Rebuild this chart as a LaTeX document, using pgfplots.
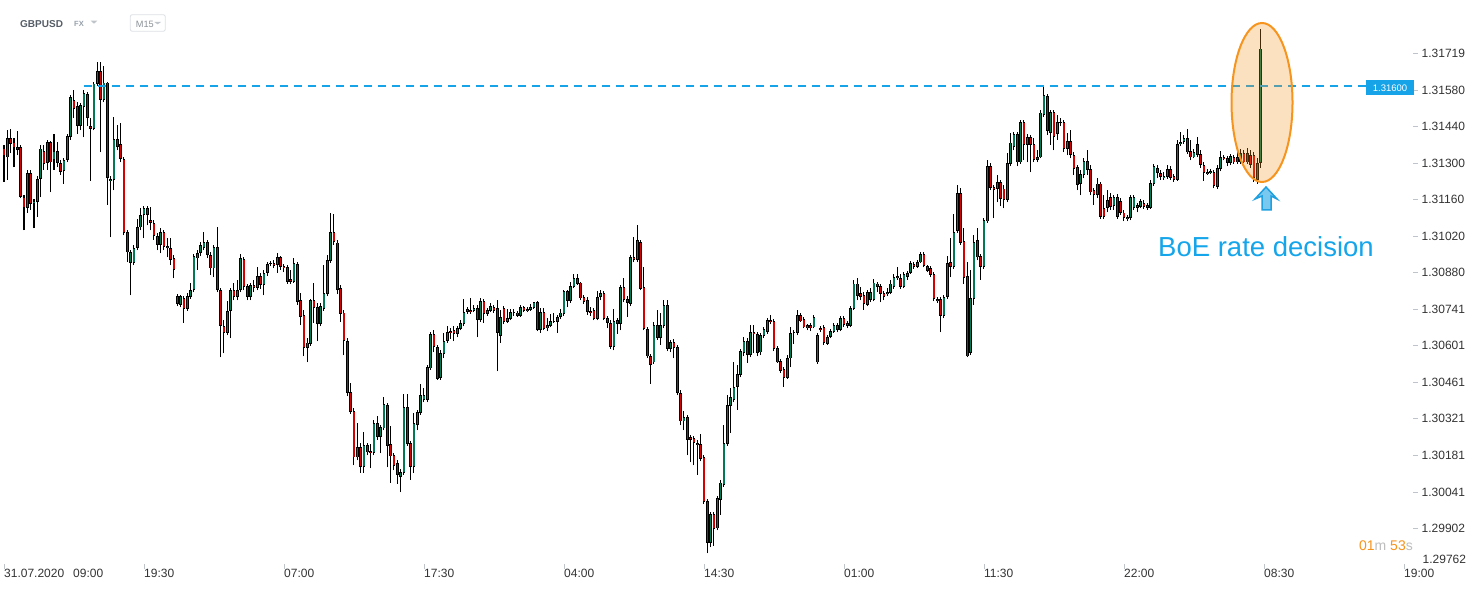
\documentclass[border=0pt]{standalone}
\usepackage{fontspec}
\setmainfont{Liberation Sans}
\usepackage{pgfplots}
\usepackage{pgfplotstable}
\pgfplotsset{compat=1.18}
\definecolor{cgreen}{RGB}{0,122,82}
\definecolor{cred}{RGB}{215,0,0}
\definecolor{lvlblue}{RGB}{22,163,232}
\definecolor{txtblue}{RGB}{20,165,235}
\definecolor{orng}{RGB}{247,148,29}
\definecolor{tickgray}{RGB}{190,196,202}
\definecolor{labgray}{RGB}{51,51,51}
\definecolor{lgray}{RGB}{190,190,190}
\definecolor{hdrgray}{RGB}{85,93,102}
\definecolor{fxgray}{RGB}{150,160,170}
\definecolor{trigray}{RGB}{190,196,202}
\definecolor{boxgray}{RGB}{220,224,228}
\definecolor{m15gray}{RGB}{140,146,152}
\definecolor{arrowblue}{RGB}{30,160,225}
\definecolor{arrowlight}{RGB}{120,200,240}

\pgfplotstableread{
i o h l c
0 1.31358 1.31370 1.31228 1.31327
1 1.31323 1.31427 1.31236 1.31396
2 1.31396 1.31431 1.31339 1.31374
3 1.31378 1.31396 1.31285 1.31358
4 1.31362 1.31423 1.31331 1.31350
5 1.31362 1.31370 1.31166 1.31170
6 1.31170 1.31178 1.31044 1.31128
7 1.31128 1.31274 1.31110 1.31263
8 1.31263 1.31274 1.31121 1.31144
9 1.31144 1.31163 1.31051 1.31155
10 1.31151 1.31251 1.31094 1.31240
11 1.31240 1.31370 1.31170 1.31355
12 1.31346 1.31370 1.31274 1.31297
13 1.31301 1.31389 1.31274 1.31381
14 1.31381 1.31385 1.31189 1.31304
15 1.31312 1.31412 1.31274 1.31346
16 1.31346 1.31381 1.31285 1.31301
17 1.31301 1.31312 1.31255 1.31266
18 1.31270 1.31319 1.31221 1.31312
19 1.31312 1.31412 1.31304 1.31404
20 1.31400 1.31561 1.31389 1.31553
21 1.31542 1.31580 1.31473 1.31508
22 1.31519 1.31534 1.31412 1.31442
23 1.31442 1.31531 1.31427 1.31523
24 1.31515 1.31580 1.31400 1.31569
25 1.31565 1.31572 1.31442 1.31473
26 1.31442 1.31473 1.31232 1.31431
27 1.31431 1.31611 1.31427 1.31604
28 1.31604 1.31687 1.31596 1.31653
29 1.31653 1.31687 1.31342 1.31542
30 1.31542 1.31672 1.31534 1.31608
31 1.31608 1.31611 1.31140 1.31243
32 1.31232 1.31251 1.31017 1.31240
33 1.31236 1.31477 1.31197 1.31393
34 1.31393 1.31446 1.31350 1.31362
35 1.31374 1.31454 1.31304 1.31316
36 1.31316 1.31323 1.31025 1.31033
37 1.31036 1.31044 1.30921 1.30959
38 1.30918 1.30967 1.30795 1.30959
39 1.30918 1.30987 1.30910 1.30975
40 1.30975 1.31087 1.30967 1.31055
41 1.31055 1.31128 1.31044 1.31102
42 1.31102 1.31136 1.31013 1.31128
43 1.31128 1.31136 1.31063 1.31102
44 1.31082 1.31132 1.31044 1.31071
45 1.31071 1.31082 1.31006 1.31021
46 1.31021 1.31033 1.30967 1.30987
47 1.30987 1.31051 1.30956 1.31036
48 1.31036 1.31044 1.30967 1.30979
49 1.30983 1.31013 1.30940 1.30975
50 1.30975 1.31013 1.30910 1.30929
51 1.30936 1.30948 1.30860 1.30891
52 1.30791 1.30799 1.30753 1.30761
53 1.30757 1.30795 1.30749 1.30791
54 1.30783 1.30791 1.30688 1.30742
55 1.30742 1.30803 1.30734 1.30791
56 1.30787 1.30842 1.30780 1.30814
57 1.30814 1.30952 1.30806 1.30944
58 1.30936 1.30967 1.30891 1.30956
59 1.30956 1.30998 1.30944 1.30987
60 1.30975 1.31036 1.30967 1.30998
61 1.30998 1.31006 1.30936 1.30948
62 1.30948 1.30959 1.30872 1.30898
63 1.30898 1.30987 1.30864 1.30979
64 1.30979 1.31055 1.30806 1.30814
65 1.30814 1.30822 1.30557 1.30676
66 1.30676 1.30699 1.30573 1.30650
67 1.30650 1.30772 1.30642 1.30734
68 1.30734 1.30822 1.30630 1.30814
69 1.30814 1.30842 1.30776 1.30787
70 1.30787 1.30853 1.30776 1.30814
71 1.30814 1.30952 1.30806 1.30936
72 1.30933 1.30940 1.30814 1.30826
73 1.30830 1.30838 1.30776 1.30787
74 1.30787 1.30842 1.30776 1.30834
75 1.30834 1.30853 1.30806 1.30822
76 1.30822 1.30902 1.30814 1.30868
77 1.30868 1.30880 1.30819 1.30834
78 1.30834 1.30891 1.30795 1.30880
79 1.30880 1.30921 1.30868 1.30914
80 1.30914 1.30925 1.30906 1.30918
81 1.30918 1.30929 1.30898 1.30906
82 1.30910 1.30956 1.30880 1.30940
83 1.30940 1.30944 1.30891 1.30902
84 1.30906 1.30914 1.30883 1.30898
85 1.30902 1.30910 1.30838 1.30845
86 1.30857 1.30891 1.30838 1.30845
87 1.30845 1.30936 1.30842 1.30918
88 1.30914 1.30921 1.30757 1.30768
89 1.30776 1.30803 1.30680 1.30711
90 1.30719 1.30738 1.30561 1.30592
91 1.30592 1.30630 1.30538 1.30612
92 1.30608 1.30780 1.30600 1.30776
93 1.30776 1.30842 1.30688 1.30745
94 1.30749 1.30765 1.30619 1.30684
95 1.30684 1.30765 1.30676 1.30753
96 1.30742 1.30910 1.30734 1.30803
97 1.30799 1.30948 1.30791 1.30929
98 1.30925 1.31110 1.30918 1.31036
99 1.31036 1.31106 1.30987 1.30998
100 1.30995 1.31006 1.30799 1.30814
101 1.30822 1.30834 1.30692 1.30723
102 1.30727 1.30738 1.30565 1.30619
103 1.30619 1.30630 1.30408 1.30420
104 1.30423 1.30459 1.30340 1.30347
105 1.30351 1.30362 1.30144 1.30174
106 1.30174 1.30305 1.30163 1.30213
107 1.30213 1.30229 1.30114 1.30136
108 1.30136 1.30270 1.30114 1.30221
109 1.30221 1.30229 1.30182 1.30193
110 1.30197 1.30225 1.30132 1.30190
111 1.30190 1.30316 1.30182 1.30305
112 1.30305 1.30332 1.30240 1.30251
113 1.30251 1.30297 1.30190 1.30289
114 1.30285 1.30404 1.30278 1.30378
115 1.30374 1.30382 1.30136 1.30217
116 1.30225 1.30293 1.30076 1.30178
117 1.30182 1.30190 1.30125 1.30140
118 1.30152 1.30163 1.30072 1.30106
119 1.30098 1.30129 1.30040 1.30117
120 1.30114 1.30416 1.30106 1.30366
121 1.30366 1.30416 1.30217 1.30225
122 1.30229 1.30236 1.30087 1.30136
123 1.30136 1.30344 1.30114 1.30305
124 1.30297 1.30355 1.30278 1.30347
125 1.30344 1.30455 1.30336 1.30412
126 1.30393 1.30439 1.30385 1.30412
127 1.30393 1.30527 1.30385 1.30519
128 1.30515 1.30653 1.30508 1.30646
129 1.30646 1.30661 1.30576 1.30596
130 1.30596 1.30604 1.30470 1.30474
131 1.30477 1.30584 1.30470 1.30573
132 1.30569 1.30650 1.30553 1.30619
133 1.30619 1.30676 1.30612 1.30653
134 1.30657 1.30668 1.30627 1.30650
135 1.30661 1.30676 1.30619 1.30646
136 1.30646 1.30676 1.30634 1.30668
137 1.30665 1.30699 1.30661 1.30688
138 1.30684 1.30780 1.30676 1.30730
139 1.30730 1.30749 1.30723 1.30742
140 1.30738 1.30783 1.30723 1.30730
141 1.30734 1.30757 1.30730 1.30745
142 1.30745 1.30757 1.30634 1.30699
143 1.30699 1.30783 1.30692 1.30772
144 1.30772 1.30780 1.30688 1.30723
145 1.30723 1.30745 1.30715 1.30738
146 1.30734 1.30765 1.30730 1.30753
147 1.30749 1.30757 1.30727 1.30734
148 1.30745 1.30776 1.30504 1.30650
149 1.30638 1.30738 1.30612 1.30711
150 1.30745 1.30753 1.30684 1.30692
151 1.30692 1.30742 1.30688 1.30707
152 1.30703 1.30742 1.30699 1.30730
153 1.30730 1.30742 1.30715 1.30727
154 1.30727 1.30734 1.30711 1.30715
155 1.30715 1.30757 1.30711 1.30749
156 1.30749 1.30753 1.30730 1.30734
157 1.30734 1.30749 1.30730 1.30742
158 1.30738 1.30761 1.30734 1.30749
159 1.30745 1.30768 1.30742 1.30768
160 1.30768 1.30772 1.30657 1.30661
161 1.30661 1.30745 1.30650 1.30730
162 1.30730 1.30745 1.30661 1.30665
163 1.30668 1.30707 1.30657 1.30680
164 1.30676 1.30723 1.30672 1.30695
165 1.30695 1.30727 1.30688 1.30692
166 1.30692 1.30719 1.30650 1.30711
167 1.30711 1.30742 1.30703 1.30727
168 1.30723 1.30814 1.30715 1.30810
169 1.30810 1.30814 1.30749 1.30772
170 1.30772 1.30845 1.30765 1.30830
171 1.30826 1.30876 1.30822 1.30860
172 1.30860 1.30876 1.30834 1.30838
173 1.30842 1.30845 1.30776 1.30783
174 1.30787 1.30795 1.30761 1.30768
175 1.30776 1.30787 1.30719 1.30730
176 1.30734 1.30749 1.30715 1.30727
177 1.30738 1.30745 1.30699 1.30703
178 1.30703 1.30810 1.30699 1.30787
179 1.30787 1.30814 1.30776 1.30803
180 1.30803 1.30810 1.30699 1.30703
181 1.30707 1.30715 1.30668 1.30688
182 1.30688 1.30699 1.30589 1.30596
183 1.30596 1.30742 1.30584 1.30695
184 1.30699 1.30707 1.30646 1.30684
185 1.30684 1.30834 1.30661 1.30826
186 1.30826 1.30860 1.30768 1.30776
187 1.30780 1.30791 1.30711 1.30765
188 1.30761 1.30948 1.30753 1.30940
189 1.30940 1.31017 1.30921 1.30929
190 1.30929 1.31063 1.30921 1.31006
191 1.30998 1.31006 1.30814 1.30819
192 1.30826 1.30902 1.30661 1.30665
193 1.30665 1.30672 1.30553 1.30561
194 1.30561 1.30569 1.30455 1.30527
195 1.30538 1.30692 1.30531 1.30680
196 1.30680 1.30738 1.30623 1.30630
197 1.30630 1.30727 1.30604 1.30680
198 1.30676 1.30776 1.30668 1.30757
199 1.30757 1.30776 1.30580 1.30589
200 1.30589 1.30623 1.30576 1.30615
201 1.30615 1.30627 1.30553 1.30592
202 1.30596 1.30604 1.30412 1.30420
203 1.30420 1.30431 1.30297 1.30312
204 1.30312 1.30351 1.30278 1.30328
205 1.30328 1.30336 1.30182 1.30240
206 1.30251 1.30259 1.30155 1.30240
207 1.30247 1.30255 1.30144 1.30229
208 1.30229 1.30240 1.30106 1.30221
209 1.30225 1.30263 1.30159 1.30167
210 1.30174 1.30182 1.29995 1.30002
211 1.30006 1.30014 1.29807 1.29846
212 1.29846 1.29964 1.29830 1.29957
213 1.29957 1.29964 1.29834 1.29899
214 1.29902 1.30025 1.29895 1.30017
215 1.30010 1.30087 1.29953 1.30076
216 1.30068 1.30297 1.30060 1.30229
217 1.30225 1.30412 1.30217 1.30374
218 1.30370 1.30439 1.30267 1.30404
219 1.30393 1.30538 1.30385 1.30443
220 1.30443 1.30527 1.30355 1.30493
221 1.30489 1.30589 1.30481 1.30580
222 1.30573 1.30634 1.30561 1.30619
223 1.30619 1.30630 1.30535 1.30565
224 1.30565 1.30680 1.30557 1.30653
225 1.30653 1.30680 1.30573 1.30646
226 1.30646 1.30653 1.30561 1.30573
227 1.30576 1.30650 1.30565 1.30642
228 1.30638 1.30672 1.30630 1.30665
229 1.30653 1.30707 1.30646 1.30699
230 1.30699 1.30719 1.30684 1.30692
231 1.30695 1.30703 1.30580 1.30589
232 1.30592 1.30600 1.30535 1.30538
233 1.30542 1.30550 1.30497 1.30504
234 1.30512 1.30519 1.30443 1.30477
235 1.30477 1.30565 1.30474 1.30553
236 1.30553 1.30672 1.30519 1.30650
237 1.30650 1.30661 1.30608 1.30653
238 1.30650 1.30738 1.30642 1.30719
239 1.30719 1.30727 1.30692 1.30695
240 1.30703 1.30711 1.30668 1.30672
241 1.30668 1.30684 1.30661 1.30680
242 1.30680 1.30688 1.30657 1.30668
243 1.30672 1.30719 1.30668 1.30711
244 1.30538 1.30650 1.30531 1.30642
245 1.30668 1.30676 1.30653 1.30661
246 1.30672 1.30680 1.30604 1.30612
247 1.30608 1.30642 1.30604 1.30634
248 1.30634 1.30665 1.30630 1.30657
249 1.30653 1.30688 1.30650 1.30680
250 1.30680 1.30688 1.30653 1.30661
251 1.30661 1.30715 1.30657 1.30707
252 1.30707 1.30715 1.30672 1.30680
253 1.30676 1.30695 1.30668 1.30688
254 1.30676 1.30753 1.30672 1.30745
255 1.30742 1.30853 1.30738 1.30838
256 1.30838 1.30860 1.30776 1.30791
257 1.30803 1.30826 1.30776 1.30787
258 1.30795 1.30806 1.30738 1.30761
259 1.30757 1.30814 1.30753 1.30806
260 1.30776 1.30822 1.30768 1.30806
261 1.30776 1.30857 1.30772 1.30842
262 1.30838 1.30845 1.30806 1.30826
263 1.30830 1.30838 1.30768 1.30799
264 1.30803 1.30810 1.30776 1.30787
265 1.30799 1.30822 1.30791 1.30806
266 1.30803 1.30853 1.30799 1.30838
267 1.30826 1.30876 1.30819 1.30864
268 1.30868 1.30902 1.30853 1.30860
269 1.30860 1.30876 1.30819 1.30826
270 1.30826 1.30883 1.30822 1.30876
271 1.30864 1.30887 1.30853 1.30880
272 1.30880 1.30925 1.30876 1.30918
273 1.30914 1.30921 1.30895 1.30902
274 1.30902 1.30929 1.30898 1.30921
275 1.30921 1.30959 1.30918 1.30952
276 1.30952 1.30959 1.30902 1.30906
277 1.30906 1.30910 1.30883 1.30887
278 1.30898 1.30906 1.30864 1.30872
279 1.30876 1.30883 1.30772 1.30780
280 1.30780 1.30787 1.30765 1.30772
281 1.30780 1.30787 1.30653 1.30715
282 1.30715 1.30795 1.30707 1.30787
283 1.30787 1.30944 1.30780 1.30918
284 1.30921 1.31013 1.30864 1.30902
285 1.30902 1.31106 1.30895 1.31036
286 1.31040 1.31217 1.31033 1.31186
287 1.31186 1.31205 1.30987 1.30995
288 1.31002 1.31051 1.30838 1.30860
289 1.30868 1.30921 1.30557 1.30561
290 1.30573 1.30891 1.30565 1.30783
291 1.30780 1.31025 1.30757 1.30998
292 1.31006 1.31051 1.30929 1.30940
293 1.30944 1.30952 1.30853 1.30902
294 1.30902 1.31090 1.30895 1.31082
295 1.31078 1.31312 1.31071 1.31289
296 1.31289 1.31301 1.31197 1.31205
297 1.31209 1.31217 1.31090 1.31197
298 1.31202 1.31255 1.31151 1.31228
299 1.31228 1.31236 1.31136 1.31163
300 1.31202 1.31217 1.31128 1.31159
301 1.31159 1.31339 1.31151 1.31301
302 1.31297 1.31416 1.31289 1.31378
303 1.31362 1.31419 1.31350 1.31412
304 1.31412 1.31419 1.31289 1.31304
305 1.31304 1.31465 1.31297 1.31458
306 1.31458 1.31465 1.31312 1.31370
307 1.31370 1.31412 1.31304 1.31400
308 1.31400 1.31408 1.31266 1.31370
309 1.31374 1.31396 1.31304 1.31312
310 1.31312 1.31350 1.31304 1.31323
311 1.31323 1.31504 1.31319 1.31493
312 1.31485 1.31600 1.31477 1.31561
313 1.31557 1.31565 1.31408 1.31423
314 1.31416 1.31504 1.31370 1.31496
315 1.31496 1.31504 1.31350 1.31400
316 1.31412 1.31485 1.31389 1.31458
317 1.31458 1.31473 1.31442 1.31454
318 1.31458 1.31465 1.31342 1.31355
319 1.31355 1.31416 1.31331 1.31385
320 1.31385 1.31427 1.31319 1.31331
321 1.31331 1.31342 1.31255 1.31278
322 1.31285 1.31293 1.31197 1.31217
323 1.31221 1.31274 1.31178 1.31259
324 1.31255 1.31319 1.31243 1.31308
325 1.31308 1.31350 1.31255 1.31274
326 1.31278 1.31293 1.31178 1.31189
327 1.31197 1.31205 1.31140 1.31178
328 1.31178 1.31243 1.31166 1.31221
329 1.31221 1.31228 1.31087 1.31094
330 1.31128 1.31178 1.31087 1.31094
331 1.31128 1.31197 1.31113 1.31159
332 1.31170 1.31186 1.31121 1.31132
333 1.31136 1.31178 1.31121 1.31170
334 1.31170 1.31182 1.31087 1.31094
335 1.31155 1.31166 1.31102 1.31110
336 1.31110 1.31121 1.31078 1.31090
337 1.31087 1.31102 1.31078 1.31094
338 1.31090 1.31178 1.31082 1.31170
339 1.31128 1.31178 1.31121 1.31170
340 1.31128 1.31148 1.31113 1.31140
341 1.31132 1.31163 1.31128 1.31155
342 1.31148 1.31159 1.31125 1.31132
343 1.31128 1.31148 1.31121 1.31140
344 1.31128 1.31236 1.31125 1.31224
345 1.31221 1.31297 1.31213 1.31289
346 1.31282 1.31293 1.31243 1.31263
347 1.31263 1.31274 1.31236 1.31247
348 1.31243 1.31266 1.31236 1.31251
349 1.31247 1.31293 1.31240 1.31278
350 1.31278 1.31289 1.31236 1.31243
351 1.31251 1.31259 1.31228 1.31236
352 1.31236 1.31389 1.31232 1.31374
353 1.31374 1.31419 1.31366 1.31381
354 1.31381 1.31408 1.31374 1.31396
355 1.31396 1.31431 1.31335 1.31342
356 1.31346 1.31389 1.31312 1.31323
357 1.31323 1.31355 1.31319 1.31342
358 1.31374 1.31400 1.31323 1.31331
359 1.31335 1.31350 1.31282 1.31293
360 1.31293 1.31304 1.31232 1.31263
361 1.31259 1.31278 1.31255 1.31266
362 1.31263 1.31278 1.31259 1.31270
363 1.31266 1.31274 1.31205 1.31213
364 1.31209 1.31293 1.31202 1.31282
365 1.31278 1.31346 1.31270 1.31323
366 1.31323 1.31331 1.31312 1.31316
367 1.31319 1.31327 1.31289 1.31301
368 1.31301 1.31335 1.31293 1.31327
369 1.31323 1.31331 1.31297 1.31304
370 1.31323 1.31342 1.31297 1.31304
371 1.31304 1.31355 1.31297 1.31339
372 1.31339 1.31350 1.31301 1.31304
373 1.31339 1.31358 1.31297 1.31304
374 1.31331 1.31350 1.31282 1.31293
375 1.31331 1.31342 1.31228 1.31243
376 1.31236 1.31319 1.31221 1.31301
377 1.31301 1.31814 1.31282 1.31738
}\candles

\pgfplotsset{
  candle/.style={only marks, mark=*, mark size=0pt, mark options={draw=none, fill=none},
    error bars/y dir=plus, error bars/y explicit, error bars/error mark=none},
}

\begin{document}
\begin{tikzpicture}
\fill[white] (0pt,0pt) rectangle (1482pt,590pt);
\useasboundingbox (0pt,0pt) rectangle (1482pt,590pt);
\begin{axis}[
  at={(0pt,26pt)}, anchor=south west,
  scale only axis, width=1413pt, height=564pt,
  xmin=-1.2, xmax=422.7, ymin=1.29765, ymax=1.31925,
  axis x line*=bottom, axis y line*=right,
  axis line style={draw=none},
  tick align=outside, major tick length=5pt,
  tick style={tickgray, line width=0.8pt},
  scaled y ticks=false,
  xtick={0,42,84,126,168,210,252,294,336,378,420},
  xticklabels={{31.07.2020\hspace{9pt}09:00},19:30,07:00,17:30,04:00,14:30,01:00,11:30,22:00,08:30,19:00},
  xticklabel style={anchor=north west, inner sep=0pt, font=\fontsize{12}{12}\selectfont, text=labgray},
  ytick={1.29902,1.30041,1.30181,1.30321,1.30461,1.30601,1.30741,1.30880,1.31020,1.31160,1.31300,1.31440,1.31580,1.31719},
  yticklabels={1.29902,1.30041,1.30181,1.30321,1.30461,1.30601,1.30741,1.30880,1.31020,1.31160,1.31300,1.31440,1.31580,1.31719},
  yticklabel style={anchor=west, inner sep=0pt, xshift=3.5pt, font=\fontsize{12}{12}\selectfont, text=labgray},
]
% wicks
\addplot[candle, error bars/error bar style={draw=black, line width=1pt}]
  table[x=i, y=l, y error expr={\thisrow{h}-\thisrow{l}}] {\candles};
% body outline
\addplot[candle, error bars/error bar style={draw=black, line width=2.9pt}]
  table[x=i, y expr={min(\thisrow{o},\thisrow{c})}, y error expr={max(abs(\thisrow{c}-\thisrow{o}),0.00003)}] {\candles};
% green fill
\addplot[candle, restrict expr to domain={\thisrow{c}-\thisrow{o}}{0:1},
  error bars/error bar style={draw=cgreen, line width=1.5pt}]
  table[x=i, y expr={min(\thisrow{o},\thisrow{c})+0.000025}, y error expr={max(abs(\thisrow{c}-\thisrow{o})-0.00005,0)}] {\candles};
% red fill
\addplot[candle, restrict expr to domain={\thisrow{c}-\thisrow{o}}{-1:0},
  error bars/error bar style={draw=cred, line width=1.5pt}]
  table[x=i, y expr={min(\thisrow{o},\thisrow{c})+0.000025}, y error expr={max(abs(\thisrow{c}-\thisrow{o})-0.00005,0)}] {\candles};
% level line
\addplot[lvlblue, line width=1.8pt, dash pattern=on 8pt off 6pt] coordinates {(24,1.31595) (408.6,1.31595)};
\end{axis}
% highlight ellipse
\draw[orng, line width=2pt, fill=orng, fill opacity=0.28] (1262pt,487.5pt) ellipse [x radius=30.5pt, y radius=79.5pt];
% arrow
\draw[draw=arrowblue, fill=arrowlight, line width=1.5pt, line join=miter]
  (1266pt,403pt) -- (1277pt,391pt) -- (1271pt,394pt) -- (1271pt,380pt) -- (1262pt,380pt) -- (1262pt,394pt) -- (1255pt,391pt) -- cycle;
\node[anchor=base west, inner sep=0pt, text=txtblue, font=\fontsize{27.5}{30}\selectfont] at (1158pt,334pt) {BoE rate decision};
% price label
\fill[lvlblue] (1366pt,494.7pt) rectangle (1414pt,509.7pt);
\node[text=white, inner sep=0pt, font=\fontsize{9.5}{10}\selectfont] at (1390pt,502.2pt) {1.31600};
\node[anchor=west, inner sep=0pt, text=labgray, font=\fontsize{12}{12}\selectfont] at (1422.5pt,30.7pt) {1.29762};
% countdown
\node[anchor=base east, inner sep=0pt, font=\fontsize{14}{14}\selectfont] at (1413pt,39.3pt) {\textcolor{orng}{01}\textcolor{lgray}{m} \textcolor{orng}{53}\textcolor{lgray}{s}};
% header
\node[anchor=base west, inner sep=0pt, font=\bfseries\fontsize{10}{10}\selectfont, text=hdrgray] at (20pt,562.7pt) {GBPUSD};
\node[anchor=base west, inner sep=0pt, font=\bfseries\fontsize{7.5}{8}\selectfont, text=fxgray] at (74pt,563.3pt) {FX};
\fill[trigray] (90.7pt,569.3pt) -- (97.3pt,569.3pt) -- (94pt,566.3pt) -- cycle;
\draw[boxgray, line width=0.8pt, rounded corners=2pt] (130.3pt,558.7pt) rectangle (165.3pt,575.3pt);
\node[anchor=base west, inner sep=0pt, font=\fontsize{9.2}{9}\selectfont, text=m15gray] at (135.7pt,562.7pt) {M15};
\fill[trigray] (154.3pt,568pt) -- (161pt,568pt) -- (157.6pt,565.7pt) -- cycle;
\end{tikzpicture}
\end{document}
